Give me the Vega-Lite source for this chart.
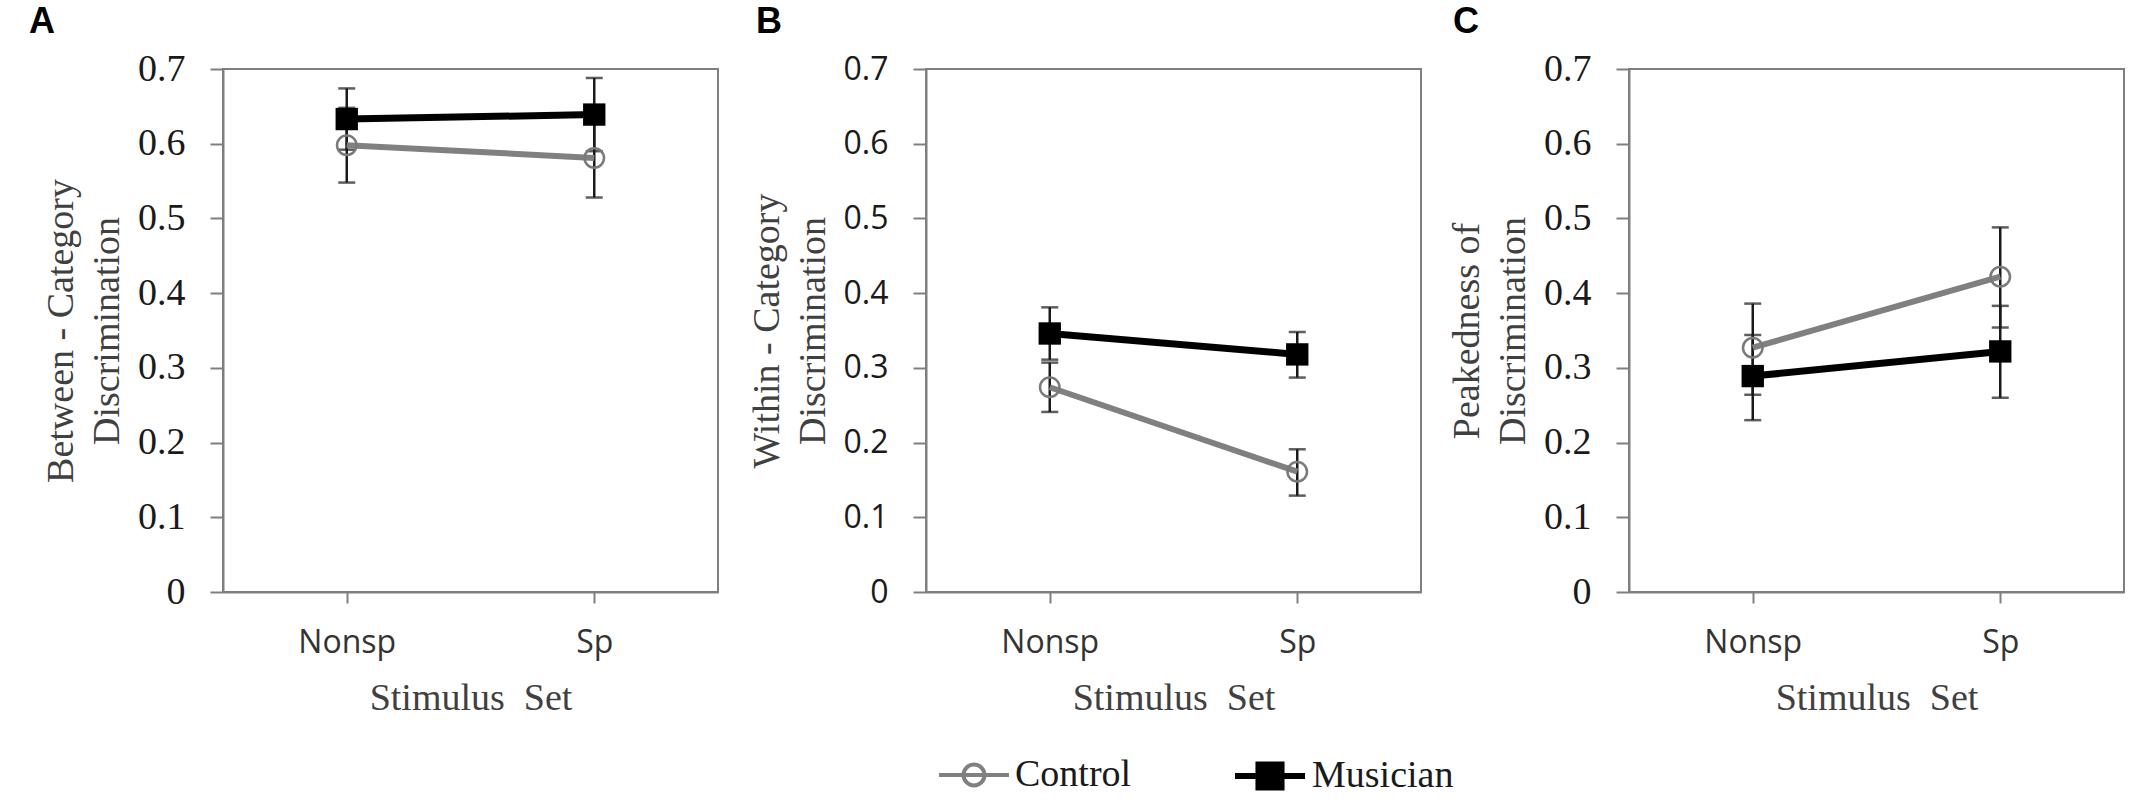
{
  "$schema": "https://vega.github.io/schema/vega-lite/v6.json",
  "padding": {"left": 28, "top": 3, "right": 5, "bottom": 5},
  "background": "white",
  "datasets": {
    "disc": [
      {"panel": "A", "set": "Nonsp", "group": "Control", "mean": 0.598, "lo": 0.548, "hi": 0.648},
      {"panel": "A", "set": "Nonsp", "group": "Musician", "mean": 0.633, "lo": 0.592, "hi": 0.674},
      {"panel": "A", "set": "Sp", "group": "Control", "mean": 0.581, "lo": 0.528, "hi": 0.634},
      {"panel": "A", "set": "Sp", "group": "Musician", "mean": 0.639, "lo": 0.590, "hi": 0.688},
      {"panel": "B", "set": "Nonsp", "group": "Control", "mean": 0.274, "lo": 0.241, "hi": 0.307},
      {"panel": "B", "set": "Nonsp", "group": "Musician", "mean": 0.346, "lo": 0.311, "hi": 0.381},
      {"panel": "B", "set": "Sp", "group": "Control", "mean": 0.161, "lo": 0.129, "hi": 0.191},
      {"panel": "B", "set": "Sp", "group": "Musician", "mean": 0.318, "lo": 0.287, "hi": 0.348},
      {"panel": "C", "set": "Nonsp", "group": "Control", "mean": 0.327, "lo": 0.264, "hi": 0.386},
      {"panel": "C", "set": "Nonsp", "group": "Musician", "mean": 0.289, "lo": 0.230, "hi": 0.344},
      {"panel": "C", "set": "Sp", "group": "Control", "mean": 0.422, "lo": 0.354, "hi": 0.488},
      {"panel": "C", "set": "Sp", "group": "Musician", "mean": 0.322, "lo": 0.260, "hi": 0.383}
    ]
  },
  "data": {"name": "disc"},
  "bounds": "flush",
  "spacing": 208,
  "hconcat": [
    {
      "width": 495,
      "height": 523,
      "title": {"text": "A", "anchor": "start", "frame": "group", "dx": -194, "offset": -19, "baseline": "alphabetic", "font": "Liberation Sans", "fontSize": 36, "fontWeight": "bold", "color": "#000000"},
      "transform": [{"filter": "datum.panel === 'A'"}],
      "encoding": {
        "x": {"field": "set", "type": "nominal", "sort": ["Nonsp", "Sp"], "scale": {"type": "point", "padding": 0.5}, "title": "Stimulus\u00a0 Set"}
      },
      "layer": [
        {
          "mark": {"type": "rule", "color": "#1a1a1a", "strokeWidth": 2.5},
          "encoding": {
            "y": {"field": "lo", "type": "quantitative", "scale": {"domain": [0, 0.7], "nice": false}, "axis": {"values": [0, 0.1, 0.2, 0.3, 0.4, 0.5, 0.6, 0.7], "format": ".1~f"}, "title": ["Between - Category", "Discrimination"]},
            "y2": {"field": "hi"}
          }
        },
        {
          "mark": {"type": "tick", "color": "#1a1a1a", "thickness": 2.5, "size": 17},
          "encoding": {"y": {"field": "lo", "type": "quantitative", "scale": {"domain": [0, 0.7], "nice": false}, "title": ["Between - Category", "Discrimination"]}}
        },
        {
          "mark": {"type": "tick", "color": "#1a1a1a", "thickness": 2.5, "size": 17},
          "encoding": {"y": {"field": "hi", "type": "quantitative", "scale": {"domain": [0, 0.7], "nice": false}, "title": ["Between - Category", "Discrimination"]}}
        },
        {
          "transform": [{"filter": "datum.group === 'Control'"}],
          "mark": {"type": "line", "strokeWidth": 6},
          "encoding": {
            "y": {"field": "mean", "type": "quantitative", "scale": {"domain": [0, 0.7], "nice": false}, "title": ["Between - Category", "Discrimination"]},
            "stroke": {
              "field": "group", "type": "nominal",
              "scale": {"domain": ["Control"], "range": ["#808080"]},
              "legend": {"title": null, "orient": "none", "legendX": 714, "legendY": 669, "symbolType": "M-1,0H1M0.3,0A0.3,0.3,0,1,1,-0.3,0A0.3,0.3,0,1,1,0.3,0", "symbolSize": 4900, "symbolStrokeWidth": 4, "symbolFillColor": "#ffffff", "labelFont": "Liberation Serif", "labelFontSize": 38, "labelColor": "#1a1a1a", "labelOffset": 4, "labelLimit": 300}
            }
          }
        },
        {
          "transform": [{"filter": "datum.group === 'Musician'"}],
          "mark": {"type": "line", "strokeWidth": 7},
          "encoding": {
            "y": {"field": "mean", "type": "quantitative", "scale": {"domain": [0, 0.7], "nice": false}, "title": ["Between - Category", "Discrimination"]},
            "color": {
              "field": "group", "type": "nominal",
              "scale": {"domain": ["Musician"], "range": ["#000000"]},
              "legend": {"title": null, "orient": "none", "legendX": 1009, "legendY": 669, "symbolType": "M-1,0H1M-0.33,-0.33H0.33V0.33H-0.33Z", "symbolSize": 4900, "symbolStrokeWidth": 6, "symbolFillColor": "#000000", "labelFont": "Liberation Serif", "labelFontSize": 38, "labelColor": "#1a1a1a", "labelOffset": 4, "labelLimit": 300}
            }
          }
        },
        {
          "transform": [{"filter": "datum.group === 'Control'"}],
          "mark": {"type": "point", "shape": "circle", "filled": false, "size": 380, "stroke": "#7a7a7a", "strokeWidth": 2.5, "opacity": 1},
          "encoding": {"y": {"field": "mean", "type": "quantitative", "scale": {"domain": [0, 0.7], "nice": false}, "title": ["Between - Category", "Discrimination"]}}
        },
        {
          "transform": [{"filter": "datum.group === 'Musician'"}],
          "mark": {"type": "square", "size": 500, "color": "#000000", "opacity": 1},
          "encoding": {"y": {"field": "mean", "type": "quantitative", "scale": {"domain": [0, 0.7], "nice": false}, "title": ["Between - Category", "Discrimination"]}}
        }
      ]
    },
    {
      "width": 495,
      "height": 523,
      "title": {"text": "B", "anchor": "start", "frame": "group", "dx": -170, "offset": -16, "baseline": "alphabetic", "font": "Liberation Sans", "fontSize": 36, "fontWeight": "bold", "color": "#000000"},
      "transform": [{"filter": "datum.panel === 'B'"}],
      "encoding": {
        "x": {"field": "set", "type": "nominal", "sort": ["Nonsp", "Sp"], "scale": {"type": "point", "padding": 0.5}, "title": "Stimulus\u00a0 Set"}
      },
      "layer": [
        {
          "mark": {"type": "rule", "color": "#1a1a1a", "strokeWidth": 2.5},
          "encoding": {
            "y": {"field": "lo", "type": "quantitative", "scale": {"domain": [0, 0.7], "nice": false}, "axis": {"values": [0, 0.1, 0.2, 0.3, 0.4, 0.5, 0.6, 0.7], "format": ".1~f", "labelFont": "Open Sans", "labelFontSize": 32}, "title": ["Within - Category", "Discrimination"]},
            "y2": {"field": "hi"}
          }
        },
        {
          "mark": {"type": "tick", "color": "#1a1a1a", "thickness": 2.5, "size": 17},
          "encoding": {"y": {"field": "lo", "type": "quantitative", "scale": {"domain": [0, 0.7], "nice": false}, "title": ["Within - Category", "Discrimination"]}}
        },
        {
          "mark": {"type": "tick", "color": "#1a1a1a", "thickness": 2.5, "size": 17},
          "encoding": {"y": {"field": "hi", "type": "quantitative", "scale": {"domain": [0, 0.7], "nice": false}, "title": ["Within - Category", "Discrimination"]}}
        },
        {
          "transform": [{"filter": "datum.group === 'Control'"}],
          "mark": {"type": "line", "strokeWidth": 6},
          "encoding": {
            "y": {"field": "mean", "type": "quantitative", "scale": {"domain": [0, 0.7], "nice": false}, "title": ["Within - Category", "Discrimination"]},
            "stroke": {
              "field": "group", "type": "nominal",
              "scale": {"domain": ["Control"], "range": ["#808080"]},
              "legend": {"title": null, "orient": "none", "legendX": 714, "legendY": 669, "symbolType": "M-1,0H1M0.3,0A0.3,0.3,0,1,1,-0.3,0A0.3,0.3,0,1,1,0.3,0", "symbolSize": 4900, "symbolStrokeWidth": 4, "symbolFillColor": "#ffffff", "labelFont": "Liberation Serif", "labelFontSize": 38, "labelColor": "#1a1a1a", "labelOffset": 4, "labelLimit": 300}
            }
          }
        },
        {
          "transform": [{"filter": "datum.group === 'Musician'"}],
          "mark": {"type": "line", "strokeWidth": 7},
          "encoding": {
            "y": {"field": "mean", "type": "quantitative", "scale": {"domain": [0, 0.7], "nice": false}, "title": ["Within - Category", "Discrimination"]},
            "color": {
              "field": "group", "type": "nominal",
              "scale": {"domain": ["Musician"], "range": ["#000000"]},
              "legend": {"title": null, "orient": "none", "legendX": 1009, "legendY": 669, "symbolType": "M-1,0H1M-0.33,-0.33H0.33V0.33H-0.33Z", "symbolSize": 4900, "symbolStrokeWidth": 6, "symbolFillColor": "#000000", "labelFont": "Liberation Serif", "labelFontSize": 38, "labelColor": "#1a1a1a", "labelOffset": 4, "labelLimit": 300}
            }
          }
        },
        {
          "transform": [{"filter": "datum.group === 'Control'"}],
          "mark": {"type": "point", "shape": "circle", "filled": false, "size": 380, "stroke": "#7a7a7a", "strokeWidth": 2.5, "opacity": 1},
          "encoding": {"y": {"field": "mean", "type": "quantitative", "scale": {"domain": [0, 0.7], "nice": false}, "title": ["Within - Category", "Discrimination"]}}
        },
        {
          "transform": [{"filter": "datum.group === 'Musician'"}],
          "mark": {"type": "square", "size": 500, "color": "#000000", "opacity": 1},
          "encoding": {"y": {"field": "mean", "type": "quantitative", "scale": {"domain": [0, 0.7], "nice": false}, "title": ["Within - Category", "Discrimination"]}}
        }
      ]
    },
    {
      "width": 495,
      "height": 523,
      "title": {"text": "C", "anchor": "start", "frame": "group", "dx": -176, "offset": -19, "baseline": "alphabetic", "font": "Liberation Sans", "fontSize": 36, "fontWeight": "bold", "color": "#000000"},
      "transform": [{"filter": "datum.panel === 'C'"}],
      "encoding": {
        "x": {"field": "set", "type": "nominal", "sort": ["Nonsp", "Sp"], "scale": {"type": "point", "padding": 0.5}, "title": "Stimulus\u00a0 Set"}
      },
      "layer": [
        {
          "mark": {"type": "rule", "color": "#1a1a1a", "strokeWidth": 2.5},
          "encoding": {
            "y": {"field": "lo", "type": "quantitative", "scale": {"domain": [0, 0.7], "nice": false}, "axis": {"values": [0, 0.1, 0.2, 0.3, 0.4, 0.5, 0.6, 0.7], "format": ".1~f"}, "title": ["Peakedness of", "Discrimination"]},
            "y2": {"field": "hi"}
          }
        },
        {
          "mark": {"type": "tick", "color": "#1a1a1a", "thickness": 2.5, "size": 17},
          "encoding": {"y": {"field": "lo", "type": "quantitative", "scale": {"domain": [0, 0.7], "nice": false}, "title": ["Peakedness of", "Discrimination"]}}
        },
        {
          "mark": {"type": "tick", "color": "#1a1a1a", "thickness": 2.5, "size": 17},
          "encoding": {"y": {"field": "hi", "type": "quantitative", "scale": {"domain": [0, 0.7], "nice": false}, "title": ["Peakedness of", "Discrimination"]}}
        },
        {
          "transform": [{"filter": "datum.group === 'Control'"}],
          "mark": {"type": "line", "strokeWidth": 6},
          "encoding": {
            "y": {"field": "mean", "type": "quantitative", "scale": {"domain": [0, 0.7], "nice": false}, "title": ["Peakedness of", "Discrimination"]},
            "stroke": {
              "field": "group", "type": "nominal",
              "scale": {"domain": ["Control"], "range": ["#808080"]},
              "legend": {"title": null, "orient": "none", "legendX": 714, "legendY": 669, "symbolType": "M-1,0H1M0.3,0A0.3,0.3,0,1,1,-0.3,0A0.3,0.3,0,1,1,0.3,0", "symbolSize": 4900, "symbolStrokeWidth": 4, "symbolFillColor": "#ffffff", "labelFont": "Liberation Serif", "labelFontSize": 38, "labelColor": "#1a1a1a", "labelOffset": 4, "labelLimit": 300}
            }
          }
        },
        {
          "transform": [{"filter": "datum.group === 'Musician'"}],
          "mark": {"type": "line", "strokeWidth": 7},
          "encoding": {
            "y": {"field": "mean", "type": "quantitative", "scale": {"domain": [0, 0.7], "nice": false}, "title": ["Peakedness of", "Discrimination"]},
            "color": {
              "field": "group", "type": "nominal",
              "scale": {"domain": ["Musician"], "range": ["#000000"]},
              "legend": {"title": null, "orient": "none", "legendX": 1009, "legendY": 669, "symbolType": "M-1,0H1M-0.33,-0.33H0.33V0.33H-0.33Z", "symbolSize": 4900, "symbolStrokeWidth": 6, "symbolFillColor": "#000000", "labelFont": "Liberation Serif", "labelFontSize": 38, "labelColor": "#1a1a1a", "labelOffset": 4, "labelLimit": 300}
            }
          }
        },
        {
          "transform": [{"filter": "datum.group === 'Control'"}],
          "mark": {"type": "point", "shape": "circle", "filled": false, "size": 380, "stroke": "#7a7a7a", "strokeWidth": 2.5, "opacity": 1},
          "encoding": {"y": {"field": "mean", "type": "quantitative", "scale": {"domain": [0, 0.7], "nice": false}, "title": ["Peakedness of", "Discrimination"]}}
        },
        {
          "transform": [{"filter": "datum.group === 'Musician'"}],
          "mark": {"type": "square", "size": 500, "color": "#000000", "opacity": 1},
          "encoding": {"y": {"field": "mean", "type": "quantitative", "scale": {"domain": [0, 0.7], "nice": false}, "title": ["Peakedness of", "Discrimination"]}}
        }
      ]
    }
  ],
  "resolve": {"scale": {"stroke": "shared", "color": "shared"}, "legend": {"stroke": "shared", "color": "shared"}},
  "config": {
    "font": "Liberation Serif",
    "view": {"stroke": "#7f7f7f", "strokeWidth": 2},
    "axis": {"grid": false, "domainColor": "#7f7f7f", "domainWidth": 2, "tickColor": "#7f7f7f", "tickWidth": 2, "labelColor": "#1a1a1a", "titleColor": "#404040", "titleFont": "Liberation Serif", "titleFontSize": 38, "titleFontWeight": "normal"},
    "axisY": {"tickSize": 13, "labelPadding": 25, "labelFont": "Liberation Serif", "labelFontSize": 38, "titlePadding": 11, "titleLineHeight": 46},
    "axisX": {"tickSize": 11, "labelPadding": 24, "labelFont": "Open Sans", "labelFontSize": 32, "labelAngle": 0, "labelColor": "#333333", "titlePadding": 21}
  }
}
